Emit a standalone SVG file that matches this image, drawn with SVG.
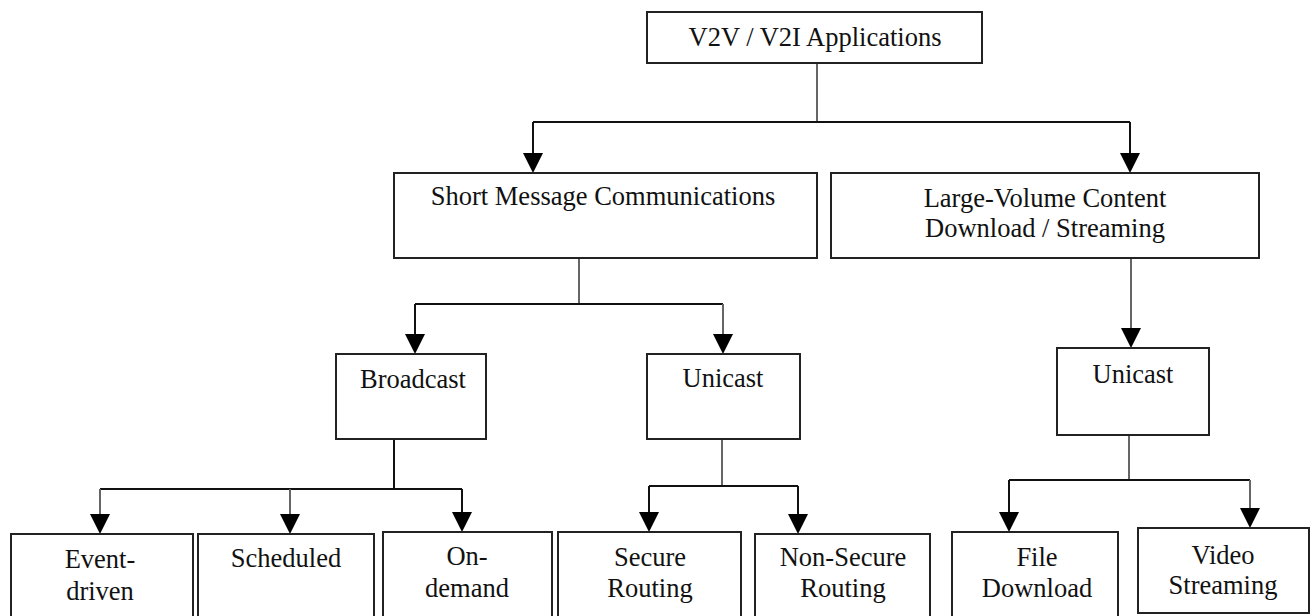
<svg xmlns="http://www.w3.org/2000/svg" width="1313" height="616" viewBox="0 0 1313 616">
<style>
.box{fill:#fff;stroke:#222;stroke-width:2}
.t{font-family:"Liberation Serif","Times New Roman",serif;font-size:26.5px;fill:#111;text-anchor:middle}
.c{fill:none;stroke:#111;stroke-width:2}
.g{fill:none;stroke:#666;stroke-width:2}
.a{marker-end:url(#arr)}
</style>
<defs>
<marker id="arr" markerUnits="userSpaceOnUse" markerWidth="20" markerHeight="20" viewBox="0 0 20 20" refX="16" refY="10" orient="auto">
<path d="M0,0 L20,10 L0,20 z" fill="#000"/>
</marker>
</defs>
<rect width="1313" height="616" fill="#fff"/>
<g id="connectors">
<path class="g" d="M817,63 V122"/>
<path class="c" d="M533,122 H1130"/>
<path class="c a" d="M533,122 V169"/>
<path class="c a" d="M1130,122 V169"/>
<path class="g" d="M579,258 V304"/>
<path class="c" d="M415,304 H723"/>
<path class="c a" d="M415,304 V350"/>
<path class="g a" d="M723,304 V350"/>
<path class="g a" d="M1131,258 V344"/>
<path class="c" d="M394,439 V489"/>
<path class="c" d="M100,489 H462"/>
<path class="g a" d="M100,489 V530"/>
<path class="g a" d="M290,489 V530"/>
<path class="c a" d="M462,489 V528"/>
<path class="g" d="M722,439 V486"/>
<path class="c" d="M649,486 H798"/>
<path class="c a" d="M649,486 V528"/>
<path class="c a" d="M798,486 V530"/>
<path class="g" d="M1129,435 V480"/>
<path class="c" d="M1009,480 H1250"/>
<path class="c a" d="M1009,480 V528"/>
<path class="g a" d="M1250,480 V524"/>
</g>
<g id="n-root"><rect class="box" x="647" y="12" width="335" height="51"/><text class="t" x="815" y="46">V2V / V2I Applications</text></g>
<g id="n-short"><rect class="box" x="394" y="173" width="423" height="85"/><text class="t" x="603" y="205">Short Message Communications</text></g>
<g id="n-large"><rect class="box" x="831" y="173" width="428" height="85"/><text class="t" x="1045" y="207">Large-Volume Content</text><text class="t" x="1045" y="237">Download / Streaming</text></g>
<g id="n-broadcast"><rect class="box" x="336" y="354" width="150" height="85"/><text class="t" x="413" y="388">Broadcast</text></g>
<g id="n-unicast1"><rect class="box" x="647" y="354" width="153" height="85"/><text class="t" x="723" y="387">Unicast</text></g>
<g id="n-unicast2"><rect class="box" x="1057" y="348" width="152" height="87"/><text class="t" x="1133" y="383">Unicast</text></g>
<g id="n-event"><rect class="box" x="11" y="534" width="182" height="90"/><text class="t" x="100" y="568">Event-</text><text class="t" x="100" y="600">driven</text></g>
<g id="n-scheduled"><rect class="box" x="198" y="534" width="176" height="90"/><text class="t" x="286" y="567">Scheduled</text></g>
<g id="n-ondemand"><rect class="box" x="383" y="532" width="169" height="90"/><text class="t" x="467" y="565">On-</text><text class="t" x="467" y="597">demand</text></g>
<g id="n-secure"><rect class="box" x="558" y="532" width="183" height="90"/><text class="t" x="650" y="566">Secure</text><text class="t" x="650" y="597">Routing</text></g>
<g id="n-nonsecure"><rect class="box" x="755" y="534" width="175" height="90"/><text class="t" x="843" y="566">Non-Secure</text><text class="t" x="843" y="597">Routing</text></g>
<g id="n-file"><rect class="box" x="952" y="532" width="166" height="90"/><text class="t" x="1037" y="566">File</text><text class="t" x="1037" y="597">Download</text></g>
<g id="n-video"><rect class="box" x="1138" y="528" width="171" height="85"/><text class="t" x="1223" y="564">Video</text><text class="t" x="1223" y="594">Streaming</text></g>
</svg>
